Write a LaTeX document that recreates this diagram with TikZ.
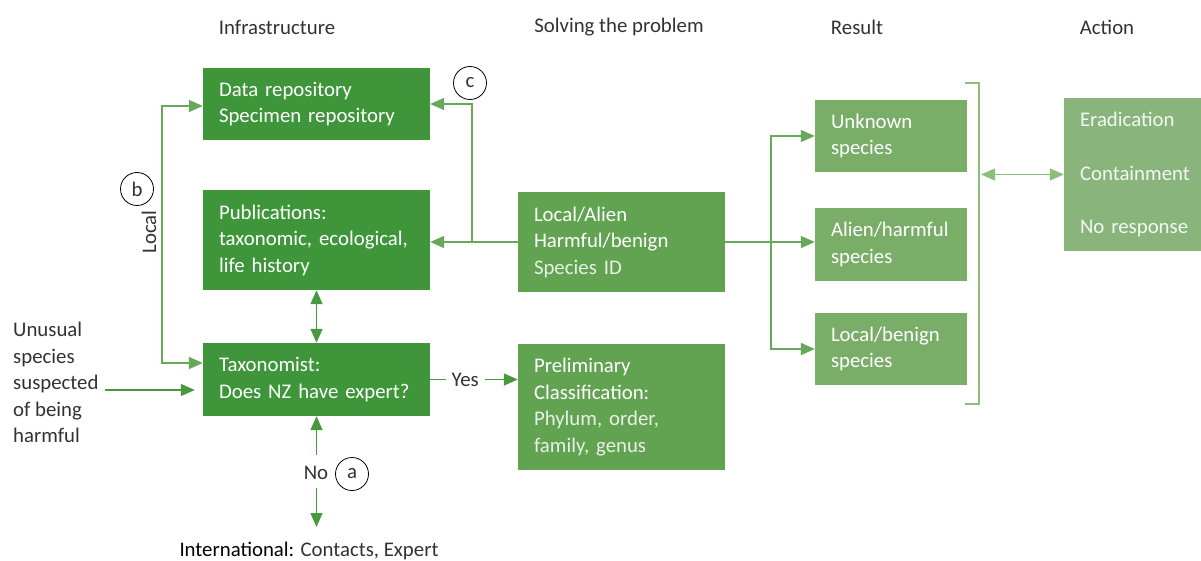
\documentclass[tikz,border=0pt]{standalone}
\usepackage{fontspec}
\setmainfont{Carlito}
\usetikzlibrary{arrows.meta,positioning,calc}
\definecolor{gdark}{RGB}{63,150,58}
\definecolor{gmid}{RGB}{98,163,82}
\definecolor{gres}{RGB}{122,173,104}
\definecolor{gact}{RGB}{137,181,124}
\definecolor{adark}{RGB}{72,152,62}
\definecolor{amid}{RGB}{104,168,90}
\definecolor{alight}{RGB}{140,190,125}
\definecolor{txt}{RGB}{50,50,50}
\tikzset{
  every node/.style={font=\fontsize{20.8}{26.5}\selectfont, text=txt},
  box/.style={rectangle, inner xsep=16pt, inner ysep=0pt, align=left, text=white},
  tipa/.style={-{Triangle[length=14pt,width=12pt]}},
  tipb/.style={{Triangle[length=14pt,width=12pt]}-{Triangle[length=14pt,width=12pt]}},
  conn/.style={line width=1.5pt},
  circ/.style={circle, draw=black, line width=0.8pt, minimum size=33pt, inner sep=0pt},
  hdr/.style={anchor=center},
}
\begin{document}
\begin{tikzpicture}[x=1pt,y=-1pt]
\useasboundingbox (0,0) rectangle (1201,561);
% headers
\node[hdr] (h1) at (277,27) {Infrastructure};
\node[hdr] (h2) at (619,27) {Solving the problem};
\node[hdr] (h3) at (857,27) {Result};
\node[hdr] (h4) at (1107,27) {Action};
% infrastructure boxes
\node[box, fill=gdark, minimum width=227pt, minimum height=72pt, text width=195pt] (data) at (316.5,104) {Data repository\\Specimen repository};
\node[box, fill=gdark, minimum width=227pt, minimum height=100pt, text width=195pt] (pub) at (316.5,240) {Publications:\\taxonomic, ecological,\\life history};
\node[box, fill=gdark, minimum width=227pt, minimum height=73pt, text width=195pt] (tax) at (316.5,379.5) {Taxonomist:\\Does NZ have expert?};
% solving
\node[box, fill=gmid, minimum width=207pt, minimum height=100pt, text width=175pt] (la) at (621.5,242) {Local/Alien\\Harmful/benign\\{\color{white!85!gmid}Species ID}};
\node[box, fill=gmid, minimum width=207pt, minimum height=126pt, text width=175pt] (pre) at (621.5,407) {Preliminary\\Classification:\\{\color{white!85!gmid}Phylum, order,}\\{\color{white!85!gmid}family, genus}};
% results
\node[box, fill=gres, minimum width=152pt, minimum height=72pt, text width=120pt] (unk) at (891,136) {Unknown\\species};
\node[box, fill=gres, minimum width=152pt, minimum height=73pt, text width=120pt] (ali) at (891,244.5) {Alien/harmful\\species};
\node[box, fill=gres, minimum width=152pt, minimum height=72pt, text width=120pt] (lob) at (891,349) {Local/benign\\species};
% action
\node[box, fill=gact, minimum width=137pt, minimum height=153pt, text width=105pt, font=\fontsize{20.8}{53.5}\selectfont, text=white!90!gact] (act) at (1132.5,174.5) {Eradication\\Containment\\\mbox{No response}};
% input text
\node[align=left, anchor=west, inner sep=0pt] (unusual) at (13,382.5) {Unusual\\species\\suspected\\of being\\harmful};
\coordinate (inp) at (105,390);
\draw[conn, adark, tipa] (inp) -- ([xshift=-8pt,yshift=-10.5pt]tax.west);
% local
\draw[conn, amid, tipb] ([yshift=-2pt]data.west) -- ++(-41,0) |- ([yshift=16.5pt]tax.west);
\node[rotate=90] (local) at (149,232) {Local};
\node[circ] (b) at (137,189) {b};
% pub <-> tax
\draw[conn, adark, tipb] (pub.south) -- (tax.north);
% No
\coordinate (nup) at (316.5,455);
\coordinate (ndn) at (316.5,488);
\coordinate (nend) at (316.5,527);
\draw[conn, adark, tipa] (nup) -- (tax.south);
\draw[conn, adark, tipa] (ndn) -- (nend);
\node (no) at (316,473) {No};
\node[circ] (a) at (352,474) {a};
\node (intl) at (309,551) {{\color{black}International:} Contacts, Expert};
% yes
\draw[conn, adark, tipa] (tax.east) -- node[pos=0.4, fill=white, inner xsep=6pt] (yes) {Yes} (tax.east -| pre.west);
% c branch
\draw[conn, amid, tipa] (la.west) -- (la.west -| pub.east);
\coordinate (cj) at (472,242);
\draw[conn, amid, tipa] (cj) |- (data.east);
\node[circ] (c) at (470,83) {c};
% right branch
\draw[conn, amid, tipa] (la.east) -- (la.east -| ali.west);
\coordinate (rj) at (771,242);
\draw[conn, amid, tipa] (rj) |- (unk.west);
\draw[conn, amid, tipa] (rj) |- (lob.west);
% bracket
\coordinate (bt) at (965,83);
\coordinate (bb) at (979,404);
\draw[conn, alight] (bt) -| (bb) -- ++(-14,0);
\coordinate (bk) at (981,174.5);
\draw[conn, alight, tipb] (bk) -- (act.west);
\end{tikzpicture}
\end{document}
